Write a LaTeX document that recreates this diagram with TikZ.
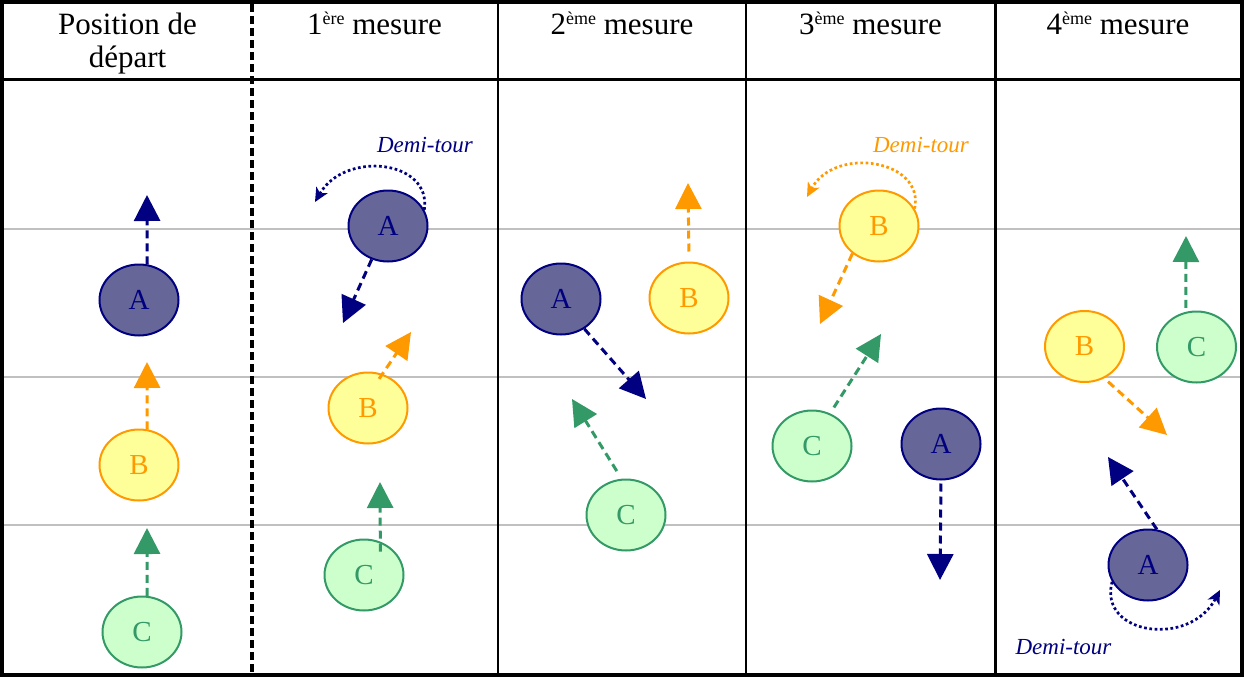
\documentclass[tikz,border=0pt]{standalone}
\usepackage{fontspec}
\setmainfont{Liberation Serif}
\usetikzlibrary{shapes.geometric,arrows.meta}
\definecolor{navyA}{HTML}{000080}
\definecolor{fillA}{HTML}{666699}
\definecolor{orgB}{HTML}{FF9900}
\definecolor{fillB}{HTML}{FFFF99}
\definecolor{grnC}{HTML}{339966}
\definecolor{fillC}{HTML}{CCFFCC}
\definecolor{gridgray}{HTML}{C0C0C0}
\newcommand\supx[1]{\raisebox{10pt}{\fontsize{18}{18}\selectfont #1}}
\begin{document}
\begin{tikzpicture}[x=1pt,y=-1pt,
  gridln/.style={draw=gridgray, line width=2pt},
  hdr/.style={anchor=base, inner sep=0pt, font=\fontsize{31}{32}\selectfont},
  posn/.style={ellipse, minimum width=79pt, minimum height=71pt, line width=2pt, inner sep=0pt, font=\fontsize{29}{29}\selectfont},
  pa/.style={posn, draw=navyA, fill=fillA, text=navyA},
  pb/.style={posn, draw=orgB, fill=fillB, text=orgB},
  pc/.style={posn, draw=grnC, fill=fillC, text=grnC},
  mv/.style={dash pattern=on 8pt off 5pt, line width=3pt, -{Triangle[length=26pt,width=26pt]}},
  mva/.style={mv, draw=navyA},
  mvb/.style={mv, draw=orgB},
  mvc/.style={mv, draw=grnC},
  turnarc/.style={line width=2.7pt, dash pattern=on 2.7pt off 2.6pt, -{Stealth[length=14pt,width=13pt,inset=4pt]}},
  demi/.style={anchor=base, inner sep=0pt, font=\fontsize{23}{23}\selectfont\itshape}
]
\useasboundingbox (0,0) rectangle (1244,677);
% grey guide lines
\foreach \yy in {229,377,525} \draw[gridln] (4,\yy) -- (1240,\yy);
% table
\draw[line width=4pt] (2,2) rectangle (1242,675);
\draw[line width=3pt] (2,79) -- (1242,79);
\draw[line width=4pt, dash pattern=on 8pt off 4pt] (251.5,4) -- (251.5,673);
\foreach \xx in {498,746,995.5} \draw[line width=2.5pt] (\xx,4) -- (\xx,673);
% headers
\node[hdr] (h1a) at (127.5,35) {Position de};
\node[hdr] (h1b) at (127.5,67) {départ};
\node[hdr] (h2) at (374.5,35) {1\supx{ère} mesure};
\node[hdr] (h3) at (622,35) {2\supx{ème} mesure};
\node[hdr] (h4) at (870.5,35) {3\supx{ème} mesure};
\node[hdr] (h5) at (1118,35) {4\supx{ème} mesure};
% positions
\node[pa] (A1) at (139,300) {A};
\node[pb] (B1) at (139,465) {B};
\node[pc] (C1) at (142,632) {C};
\node[pa] (A2) at (388,226) {A};
\node[pb] (B2) at (368,408) {B};
\node[pc] (C2) at (364,575) {C};
\node[pa] (A3) at (561,299) {A};
\node[pb] (B3) at (689,298) {B};
\node[pc] (C3) at (626,515) {C};
\node[pb] (B4) at (879,226) {B};
\node[pc] (C4) at (812,446) {C};
\node[pa] (A4) at (941,444) {A};
\node[pb] (B5) at (1084.5,346.5) {B};
\node[pc] (C5) at (1196.5,347) {C};
\node[pa] (A5) at (1148,565) {A};
% arrow tips
\coordinate (tA1) at (147,195);
\coordinate (tB1) at (147,362);
\coordinate (tC1) at (147,528);
\coordinate (tA2) at (343,323);
\coordinate (tB2) at (411,332);
\coordinate (tC2) at (380,482);
\coordinate (tA3) at (646,399);
\coordinate (tB3) at (688,183);
\coordinate (tC3) at (572,399);
\coordinate (tB4) at (820,324);
\coordinate (tC4) at (881,334);
\coordinate (tA4) at (940,580);
\coordinate (tB5) at (1167,435);
\coordinate (tC5) at (1186,236);
\coordinate (tA5) at (1108,457);
% moves
\draw[mva] (A1.77) -- (tA1);
\draw[mvb] (B1.77) -- (tB1);
\draw[mvc] (C1.82) -- (tC1);
\draw[mva] (A2.244) -- (tA2);
\draw[mvb, shorten <=-6pt] (B2.67) -- (tB2);
\draw[mvc, shorten <=-10pt] (C2.64) -- (tC2);
\draw[mva] (A3.308) -- (tA3);
\draw[mvb, shorten <=10pt] (B3.north) -- (tB3);
\draw[mvc, shorten <=9pt] (C3.97) -- (tC3);
\draw[mvb] (B4.226) -- (tB4);
\draw[mvc, shorten <=7pt] (C4.61) -- (tC4);
\draw[mva, shorten <=3pt] (A4.south) -- (tA4);
\draw[mvb, shorten <=5pt] (B5.302) -- (tB5);
\draw[mvc, shorten <=4pt] (C5.107) -- (tC5);
\draw[mva] (A5.76) -- (tA5);
% half turns
\coordinate (eA2) at (315,202);
\draw[turnarc, draw=navyA] (A2.24) .. controls (432,160) and (345,150) .. (eA2);
\coordinate (eB4) at (807,197);
\draw[turnarc, draw=orgB] (B4.26) .. controls (925,160) and (835,145) .. (eB4);
\coordinate (eA5) at (1220,590);
\draw[turnarc, draw=navyA] (A5.205) .. controls (1098,635) and (1190,648) .. (eA5);
\node[demi, text=navyA] (dA2) at (425,152) {Demi-tour};
\node[demi, text=orgB] (dB4) at (921,152) {Demi-tour};
\node[demi, text=navyA] (dA5) at (1063.5,654) {Demi-tour};
\end{tikzpicture}
\end{document}
